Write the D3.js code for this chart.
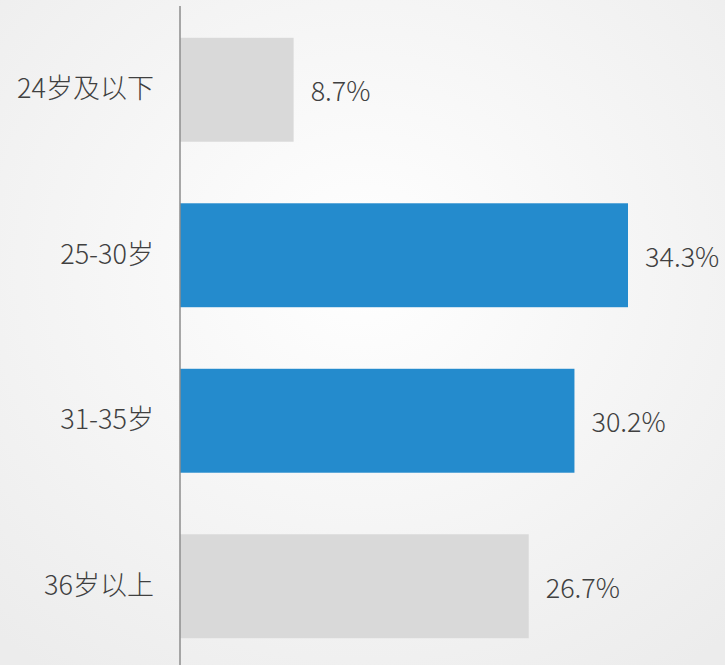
<!DOCTYPE html>
<html>
<head>
<meta charset="utf-8">
<script src="https://cdn.jsdelivr.net/npm/d3@7"></script>
<style>
  html, body { margin: 0; padding: 0; }
  svg { display: block; }
</style>
</head>
<body>
<svg id="chart" width="725" height="665"></svg>
<script>
var categories = ['24岁及以下', '25-30岁', '31-35岁', '36岁以上'];
var values = [8.7, 34.3, 30.2, 26.7];
var highlight = [false, true, true, false];

var chartSVG = d3.select('#chart');
var svgWidth = 725;
var svgHeight = 665;
var axisX = 180;

// background: soft radial gradient, white in the middle
var defs = chartSVG.append('defs');
var grad = defs.append('radialGradient')
    .attr('id', 'bg')
    .attr('cx', '50%').attr('cy', '40%').attr('r', '75%');
grad.append('stop').attr('offset', '0%').attr('stop-color', '#ffffff');
grad.append('stop').attr('offset', '100%').attr('stop-color', '#ececec');

chartSVG.append('rect')
    .attr('width', svgWidth)
    .attr('height', svgHeight)
    .attr('fill', 'url(#bg)');

var xScale = d3.scaleLinear()
    .domain([0, 34.3])
    .range([axisX, 628]);

var yScale = d3.scaleBand()
    .domain(categories)
    .range([7, 669])
    .paddingInner(0.372)
    .paddingOuter(0.186);

chartSVG.selectAll('.bar')
    .data(values)
  .enter()
  .append('rect')
    .classed('bar', true)
    .attr('x', xScale(0))
    .attr('y', (d, i) => yScale(categories[i]))
    .attr('width', d => xScale(d) - xScale(0))
    .attr('height', yScale.bandwidth())
    .attr('fill', (d, i) => highlight[i] ? '#248bcd' : '#d9d9d9');

// value labels
chartSVG.selectAll('.value')
    .data(values)
  .enter()
  .append('text')
    .classed('value', true)
    .attr('x', d => xScale(d) + 17)
    .attr('y', (d, i) => yScale(categories[i]) + yScale.bandwidth() / 2 + 2)
    .attr('dy', '0.35em')
    .attr('font-family', '"Noto Sans CJK SC", "Noto Sans", sans-serif')
    .attr('font-size', 27)
    .attr('font-weight', 300)
    .attr('fill', '#404040')
    .text(d => d.toFixed(1) + '%');

// category axis
var yAxis = d3.axisLeft(yScale).tickSize(0).tickPadding(26);
var axisG = chartSVG.append('g')
    .attr('transform', `translate(${axisX}, 0)`)
    .call(yAxis);
axisG.select('.domain').remove();
axisG.selectAll('text')
    .attr('font-family', '"Noto Sans CJK SC", "Noto Sans", sans-serif')
    .attr('font-size', 27)
    .attr('font-weight', 300)
    .attr('fill', '#404040');

chartSVG.append('line')
    .attr('x1', axisX).attr('x2', axisX)
    .attr('y1', 6).attr('y2', svgHeight)
    .attr('stroke', '#8c8c8c')
    .attr('stroke-width', 1.5);
</script>
</body>
</html>
